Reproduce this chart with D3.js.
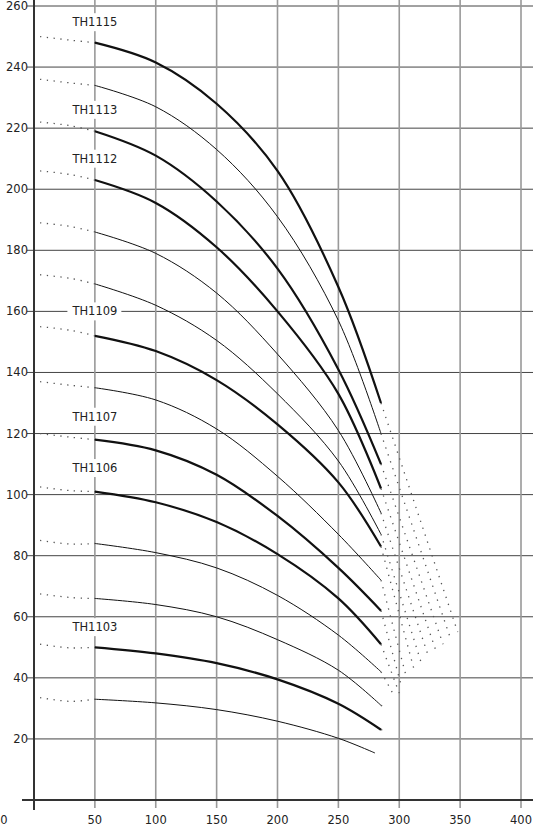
<!DOCTYPE html>
<html>
<meta charset="utf-8">
<style>
  body { margin: 0; background: #fff; }
  text { font-family: "DejaVu Sans", sans-serif; font-size: 11.5px; fill: #222; }
</style>
<script src="https://d3js.org/d3.v7.min.js"></script>
<body>
<script>
var width = 533, height = 827;

// flow points where each curve is read
var flowPts = [50, 100, 150, 200, 250];
// head (m) per pump at the flow points
var heads = [
  [248, 241.5, 228, 206, 168],
  [234, 227, 213, 191, 157],
  [219, 211, 196, 174, 141],
  [203, 195.5, 181, 160, 133],
  [186, 179, 166, 146, 121],
  [169, 162, 150.5, 133, 111],
  [152, 147, 137.5, 123, 104],
  [135, 131, 121.5, 106, 87],
  [118, 114.5, 106.5, 93, 76],
  [101, 97.5, 91, 80.5, 66],
  [84, 81, 76, 67, 54],
  [66, 64, 60, 52.5, 42.5],
  [50, 48, 44.8, 39.5, 31.5],
  [33, 31.8, 29.6, 25.8, 20.2]
];
// end flow/head of each solid curve
var endFlow = [285, 285, 285, 285, 285, 285, 285, 285, 285, 285, 285, 285, 285, 280];
var endHead = [130, 120, 110, 102, 94, 87, 83, 72, 62, 51, 42, 31, 23, 15.4];
// dotted start at low flow (x=5)
var startHead = [250, 236, 222, 206, 189, 172, 155, 137, 120, 102.5, 85, 67.5, 51, 33.5];
// dotted extension end points
var extFlow = [348, 342, 336, 330, 324, 318, 312, 306, 302, 300, 296, 290, 287, 280];
var extHead = [55, 53, 51, 49, 47, 45, 43, 40, 37, 35, 34, 30, 23, 15.4];
var thick = [true, false, true, true, false, false, true, false, true, true, false, false, true, false];

var labels = ["TH1115", "TH1113", "TH1112", "TH1109", "TH1107", "TH1106", "TH1103"];
var labelHead = [254.7, 226, 210, 160, 125.5, 108.7, 56.6];

var xTicks = [0, 50, 100, 150, 200, 250, 300, 350, 400];
var yTicks = [20, 40, 60, 80, 100, 120, 140, 160, 180, 200, 220, 240, 260];

var svg = d3.select("body").append("svg")
  .attr("width", width).attr("height", height);

var x = d3.scaleLinear().domain([0, 400]).range([34, 521]);
var y = d3.scaleLinear().domain([0, 260]).range([800, 6]);

// horizontal grid
svg.selectAll(".hg").data(yTicks).enter().append("line")
  .attr("x1", 27).attr("x2", width)
  .attr("y1", d => y(d)).attr("y2", d => y(d))
  .attr("stroke", "#444").attr("stroke-width", 1);

// vertical grid
svg.selectAll(".vg").data(xTicks.slice(1)).enter().append("line")
  .attr("x1", d => x(d)).attr("x2", d => x(d))
  .attr("y1", 0).attr("y2", 808)
  .attr("stroke", "#999").attr("stroke-width", 1.6);

// axes
svg.append("line").attr("x1", x(0)).attr("x2", x(0)).attr("y1", 0).attr("y2", 810)
  .attr("stroke", "#333").attr("stroke-width", 2);
svg.append("line").attr("x1", 22).attr("x2", width).attr("y1", y(0)).attr("y2", y(0))
  .attr("stroke", "#333").attr("stroke-width", 2);

svg.selectAll(".yl").data(yTicks).enter().append("text")
  .attr("x", 28).attr("y", d => y(d) + 4).attr("text-anchor", "end")
  .text(d => d);
svg.selectAll(".xl").data(xTicks).enter().append("text")
  .attr("x", d => d === 0 ? 4 : x(d)).attr("y", 824).attr("text-anchor", "middle")
  .text(d => d);

var line = d3.line().x(d => x(d[0])).y(d => y(d[1])).curve(d3.curveCatmullRom.alpha(0.5));

heads.forEach(function(h, i) {
  var pts = flowPts.map((f, j) => [f, h[j]]);
  pts.push([endFlow[i], endHead[i]]);
  svg.append("path").attr("d", line(pts))
    .attr("fill", "none").attr("stroke", "#111")
    .attr("stroke-width", thick[i] ? 2.2 : 1);
  // dotted start
  svg.append("path").attr("d", line([[5, startHead[i]], [30, startHead[i] - 1.2], [50, h[0]]]))
    .attr("fill", "none").attr("stroke", "#555").attr("stroke-width", 1.3)
    .attr("stroke-dasharray", "1.3,5.5");
  // dotted extension
  svg.append("line")
    .attr("x1", x(endFlow[i])).attr("y1", y(endHead[i]))
    .attr("x2", x(extFlow[i])).attr("y2", y(extHead[i]))
    .attr("stroke", "#555").attr("stroke-width", 1.3)
    .attr("stroke-dasharray", "1.3,6");
});

// model labels with white backing
labels.forEach(function(l, i) {
  var g = svg.append("g");
  var t = g.append("text").attr("x", x(50)).attr("y", y(labelHead[i]) + 4)
    .attr("text-anchor", "middle").text(l);
  var b = t.node().getBBox();
  g.insert("rect", "text").attr("x", b.x - 4).attr("y", b.y - 2)
    .attr("width", b.width + 8).attr("height", b.height + 4).attr("fill", "#fff");
});
</script>
</body>
</html>
